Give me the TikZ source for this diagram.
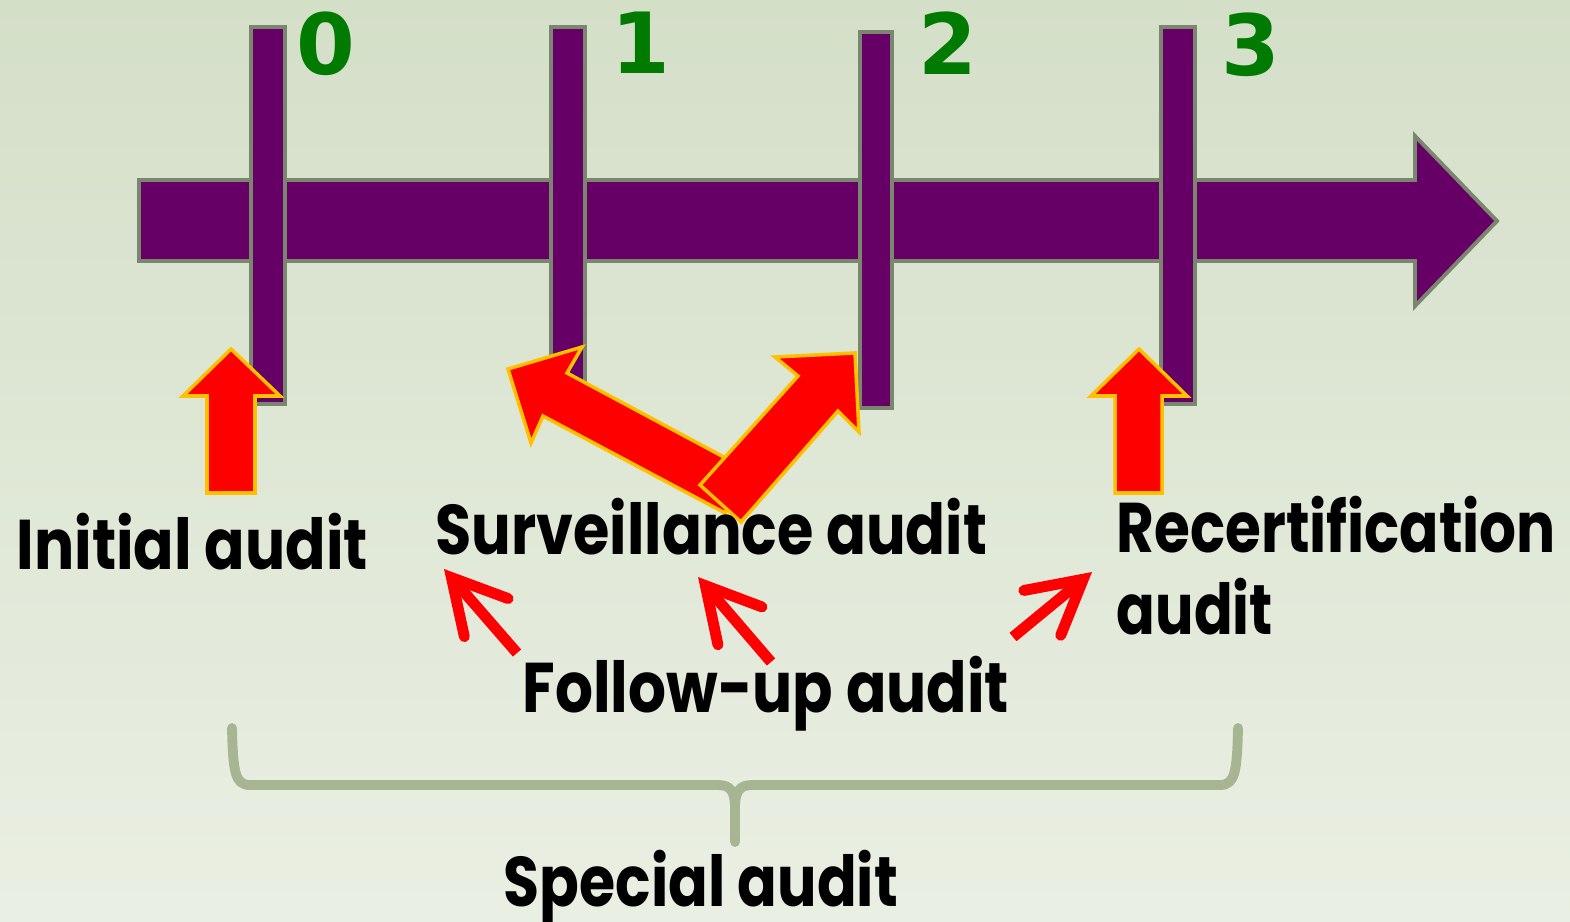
\documentclass[tikz,border=0pt]{standalone}
\usepackage{fontspec}
\setmainfont{Poppins}
\newfontfamily\digitfont{DejaVu Sans}
\usetikzlibrary{arrows.meta}
\definecolor{plum}{RGB}{102,0,102}
\definecolor{sage}{RGB}{122,135,110}
\definecolor{bracegreen}{RGB}{168,181,146}
\definecolor{bgtop}{RGB}{212,223,200}
\definecolor{bgbottom}{RGB}{234,239,227}
\definecolor{ambra}{RGB}{255,192,0}
\definecolor{numgreen}{RGB}{0,122,0}
\newcommand{\fitlbl}[2]{\resizebox{#1}{\height}{#2}}

\begin{document}
\begin{tikzpicture}[
	x=0.01cm,
	y=-0.01cm,
	line join=miter
]
\tikzset{
    bar/.style = {fill=plum, draw=sage, line width=1.1pt},
    blockarrow/.style = {fill=red, draw=ambra, line width=1pt},
    thinarrow/.style = {draw=red, line width=3.1pt, -{Straight Barb[length=5.3mm, width=5.8mm, line cap=round]}},
    lbl/.style = {inner sep=0, anchor=base west, font=\fontsize{20}{24}\selectfont\bfseries},
    digit/.style = {inner sep=0, anchor=base, text=numgreen, font=\digitfont\fontsize{24}{28}\selectfont\bfseries},
    brace/.style = {draw=bracegreen, line width=2.8pt, line cap=round, line join=round},
}
    \shade[top color=bgtop, bottom color=bgbottom] (0,0) rectangle (1570,921);
    \useasboundingbox (0,0) rectangle (1570,921);

    \draw[bar] (139,180) -- (1415,180) -- (1415,136) -- (1497,221) -- (1415,306) -- (1415,261) -- (139,261) -- cycle;
    \foreach \l/\r/\t/\b in {251/285/27/404, 551/585/27/404, 860/892/32/408, 1161/1195/27/404}
        \draw[bar] (\l,\t) rectangle (\r,\b);

    \node[digit] (n0) at (326,74) {0};
    \node[digit] (n1) at (641,73) {1};
    \node[digit] (n2) at (948,74) {2};
    \node[digit] (n3) at (1251,75) {3};

    \draw[blockarrow] (207,493) -- (207,396) -- (183,396) -- (231,349) -- (280,396) -- (255,396) -- (255,493) -- cycle;
    \draw[blockarrow] (1115,493) -- (1115,396) -- (1091,396) -- (1139,349) -- (1187,396) -- (1162,396) -- (1162,493) -- cycle;
    \draw[blockarrow] (508,369) -- (582,347) -- (567,373) -- (748,470) -- (725,513) -- (543,416) -- (531,443) -- cycle;
    \draw[blockarrow] (855,353) -- (859,432) -- (838,411) -- (741,522) -- (700,485) -- (798,376) -- (775,357) -- cycle;

    \node[lbl] (init) at (16,569) {\fitlbl{3.51cm}{Initial audit}};
    \node[lbl] (surv) at (435,554) {\fitlbl{5.51cm}{Surveillance audit}};
    \node[lbl] (recert) at (1116,552) {\fitlbl{4.39cm}{Recertification}};
    \node[lbl] (recaudit) at (1116,634) {\fitlbl{1.56cm}{audit}};
    \node[lbl] (follow) at (522,712) {\fitlbl{4.86cm}{Follow-up audit}};
    \node[lbl] (special) at (503,906) {\fitlbl{3.94cm}{Special audit}};

    \coordinate (fu1) at (517,653);
    \coordinate (fu2) at (771,662);
    \coordinate (fu3) at (1013,637);
    \coordinate (sv1) at (444,569);
    \coordinate (sv2) at (698,577);
    \coordinate (rc1) at (1092,572);
    \draw[thinarrow] (fu1) -- (sv1);
    \draw[thinarrow] (fu2) -- (sv2);
    \draw[thinarrow] (fu3) -- (rc1);

    \draw[brace] (232,728) .. controls (233,772) and (235,785) .. (250,785) -- (718,785) .. controls (731,785) and (735,792) .. (735,808) -- (735,842);
    \draw[brace] (1238,728) .. controls (1237,772) and (1235,785) .. (1220,785) -- (752,785) .. controls (739,785) and (735,792) .. (735,808);
\end{tikzpicture}
\end{document}
